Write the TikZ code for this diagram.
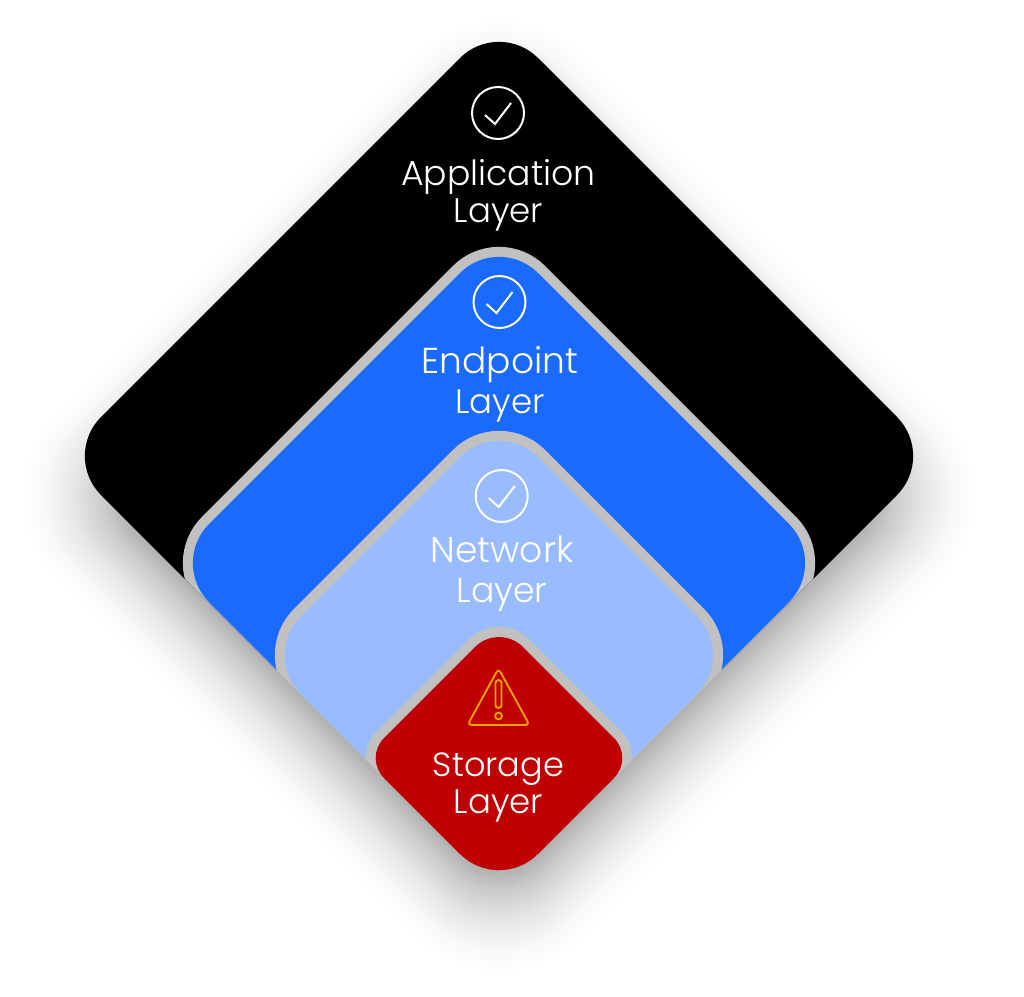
\documentclass[tikz,border=0pt]{standalone}
\usepackage{fontspec}
\setmainfont{Poppins}[UprightFont={* Light}]
\definecolor{cblue}{HTML}{1A6AFF}
\definecolor{clight}{HTML}{99BBFF}
\definecolor{cred}{HTML}{C00000}
\definecolor{cgrey}{HTML}{C1C1C1}
\definecolor{camber}{HTML}{F0A400}
% cx cy D sTop sSide sBottom
\newcommand\dia[6]{({#1-#3+#5},{#2-#5}) -- ({#1-#4},{#2-#3+#4}) .. controls ({#1-.4477*#4},{#2-#3+.4477*#4}) and ({#1+.4477*#4},{#2-#3+.4477*#4}) .. ({#1+#4},{#2-#3+#4}) -- ({#1+#3-#5},{#2-#5}) .. controls ({#1+#3-.4477*#5},{#2-.4477*#5}) and ({#1+#3-.4477*#5},{#2+.4477*#5}) .. ({#1+#3-#5},{#2+#5}) -- ({#1+#6},{#2+#3-#6}) .. controls ({#1+.4477*#6},{#2+#3-.4477*#6}) and ({#1-.4477*#6},{#2+#3-.4477*#6}) .. ({#1-#6},{#2+#3-#6}) -- ({#1-#3+#5},{#2+#5}) .. controls ({#1-#3+.4477*#5},{#2+.4477*#5}) and ({#1-#3+.4477*#5},{#2-.4477*#5}) .. cycle}
\newcommand\lsize[1]{\fontsize{#1}{#1}\selectfont}
\tikzset{
  x=0.75pt,y=-0.75pt,
  layertext/.style={text=white,align=center,anchor=center,inner sep=0pt,font=\fontsize{25.5}{#1}\selectfont},
  okring/.style={circle,draw=white,line width=1.5pt,minimum size=39pt,inner sep=0pt},
  okmark/.style={draw=white,line width=1.5pt,line join=miter},
  warn/.style={draw=camber,line width=1.4pt,line join=round},
  rim/.style={draw=cgrey,line width=15pt}
}
\begin{document}
\begin{tikzpicture}
\useasboundingbox[fill=white] (0,0) rectangle (1024,996);
% soft shadow
\foreach \i in {0,...,31}{
  \pgfmathsetmacro\tv{\i/32}
  \pgfmathsetmacro\ev{-40+130*\tv}
  \pgfmathsetmacro\dv{437+\ev}
  \pgfmathsetmacro\sv{39+(\ev+40)*0.33}
  \pgfmathsetmacro\av{0.014*(1-\tv)+0.0025}
  \fill[black,opacity=\av] \dia{499}{496}{\dv}{\sv}{\sv}{\sv};
}
% layers
\fill[black] \dia{499}{456}{437}{39}{39}{39};
\begin{scope}
  \clip \dia{499}{456}{437}{39}{39}{39};
  \draw[rim] \dia{499}{563}{329}{39}{39}{39};
  \fill[cblue] \dia{499}{563}{329}{39}{39}{39};
  \draw[rim] \dia{499}{655}{237}{39}{39}{39};
  \fill[clight] \dia{499}{655}{237}{39}{39}{39};
  \draw[rim] \dia{499}{758}{135}{24}{20}{39};
  \fill[cred] \dia{499}{758}{135}{24}{20}{39};
\end{scope}
% icons
\node[okring] (ringa) at (498,113) {};
\draw[okmark] (485,115) -- (495,124) -- (511,103);
\node[okring] (ringb) at (499.5,302) {};
\draw[okmark] (486.5,304) -- (496.5,313) -- (512.5,292);
\node[okring] (ringc) at (501.7,496) {};
\draw[okmark] (488.7,498) -- (498.7,507) -- (514.7,486);
\draw[warn,rounded corners=3pt] (498.5,668.5) -- (529.5,725) -- (467.5,725) -- cycle;
\draw[warn,rounded corners=2.2pt] (495.5,680) rectangle (501.5,708);
\draw[warn] (498.5,716) circle[radius=3.4];
% labels
\node[layertext=27.75pt] (lapp) at (498.5,195.5) {{\lsize{26}Application}\\Layer};
\node[layertext=30pt] (lend) at (500,384) {{\lsize{27}Endpoint}\\Layer};
\node[layertext=29.5pt] (lnet) at (502,573.5) {{\lsize{27}Network}\\{\lsize{26}Layer}};
\node[layertext=27.75pt] (lsto) at (498.5,787.5) {{\lsize{25.2}Storage}\\Layer};
\end{tikzpicture}
\end{document}
